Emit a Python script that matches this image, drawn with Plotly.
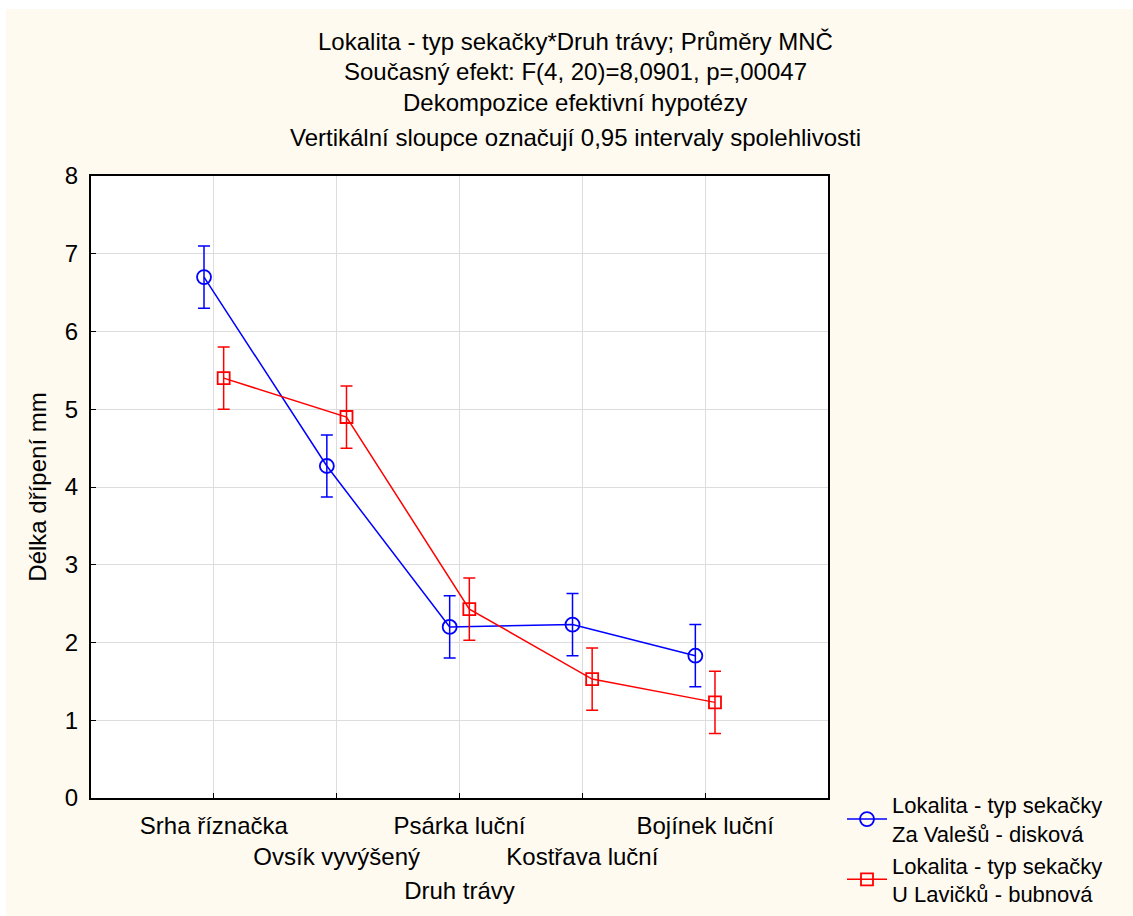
import plotly.graph_objects as go

categories = ["Srha říznačka", "Ovsík vyvýšený", "Psárka luční", "Kostřava luční", "Bojínek luční"]
cat_pos = [1, 2, 3, 4, 5]
blue_mean = [6.70, 4.27, 2.20, 2.23, 1.83]
blue_ci = [0.40, 0.40, 0.40, 0.40, 0.40]
red_mean = [5.40, 4.90, 2.43, 1.53, 1.23]
red_ci = [0.40, 0.40, 0.40, 0.40, 0.40]
series_names = ["Lokalita - typ sekačky<br>Za Valešů - disková",
                "Lokalita - typ sekačky<br>U Lavičků - bubnová"]
title_lines = ["Lokalita - typ sekačky*Druh trávy; Průměry MNČ",
               "Současný efekt: F(4, 20)=8,0901, p=,00047",
               "Dekompozice efektivní hypotézy",
               "Vertikální sloupce označují 0,95 intervaly spolehlivosti"]

offset = 0.08
FONT = "Liberation Sans, Arial, sans-serif"
FS = 24

# plot area in pixels
WIDTH, HEIGHT = 1133, 916
L, R, T, B = 91, 828, 176, 798
W, H = R - L, B - T

fig = go.Figure()
fig.add_trace(go.Scatter(
    x=[p - offset for p in cat_pos], y=blue_mean, mode="lines+markers",
    name=series_names[0],
    line=dict(color="#0000FF", width=1.5),
    marker=dict(symbol="circle-open", size=14, color="#0000FF", line=dict(width=1.8)),
    error_y=dict(type="data", array=blue_ci, color="#0000FF", thickness=1.5, width=6),
))
fig.add_trace(go.Scatter(
    x=[p + offset for p in cat_pos], y=red_mean, mode="lines+markers",
    name=series_names[1],
    line=dict(color="#FF0000", width=1.5),
    marker=dict(symbol="square-open", size=12, color="#FF0000", line=dict(width=1.8)),
    error_y=dict(type="data", array=red_ci, color="#FF0000", thickness=1.5, width=6),
))

ticktext = [c if i % 2 == 0 else "<br>" + c for i, c in enumerate(categories)]

fig.update_layout(
    width=WIDTH, height=HEIGHT,
    margin=dict(l=L, r=WIDTH - R, t=T, b=HEIGHT - B, pad=0),
    paper_bgcolor="#FFFAF0", plot_bgcolor="#FFFFFF",
    font=dict(family=FONT, size=FS, color="#000000"),
    showlegend=True,
    legend=dict(xref="container", yref="container",
                x=842 / WIDTH, y=1 - 784 / HEIGHT, xanchor="left", yanchor="top",
                bgcolor="rgba(0,0,0,0)", font=dict(size=22), tracegroupgap=0,
                itemwidth=40, borderwidth=0),
    xaxis=dict(range=[0, 6], tickvals=cat_pos, ticktext=ticktext, tickangle=0,
               automargin=False,
               showgrid=True, gridcolor="#DDDDDD", gridwidth=1,
               showline=True, linecolor="#000000", linewidth=2, mirror=True,
               ticks="inside", ticklen=5, tickcolor="#000000", ticklabelstandoff=5,
               zeroline=False, tickfont=dict(size=FS),
               title=dict(text="Druh trávy", font=dict(size=FS), standoff=13)),
    yaxis=dict(range=[0, 8], dtick=1, automargin=False,
               showgrid=True, gridcolor="#DDDDDD", gridwidth=1,
               showline=True, linecolor="#000000", linewidth=2, mirror=True,
               ticks="inside", ticklen=5, tickcolor="#000000", ticklabelstandoff=6,
               zeroline=False, tickfont=dict(size=FS),
               title=dict(text="Délka dřípení mm", font=dict(size=FS), standoff=11)),
)

for i, t in enumerate(title_lines):
    ypix = [41, 72, 103, 137][i]
    fig.add_annotation(text=t, xref="paper", yref="paper", x=(575 - L) / W,
                       y=(B - ypix) / H, xanchor="center", yanchor="middle",
                       showarrow=False, font=dict(size=FS))

# white outer border strips (top and left)
fig.add_shape(type="rect", xref="paper", yref="paper", x0=-L / W - 0.01, x1=(WIDTH - L) / W + 0.01,
              y0=(B - 9) / H, y1=(B + 10) / H, fillcolor="#FFFFFF", line=dict(width=0), layer="below")
fig.add_shape(type="rect", xref="paper", yref="paper", x0=-L / W - 0.01, x1=(6 - L) / W,
              y0=-0.3, y1=1.35, fillcolor="#FFFFFF", line=dict(width=0), layer="below")

fig.write_html("out.html", config={"displayModeBar": False},
               post_script="document.body.style.margin='0';document.body.style.padding='0';")
